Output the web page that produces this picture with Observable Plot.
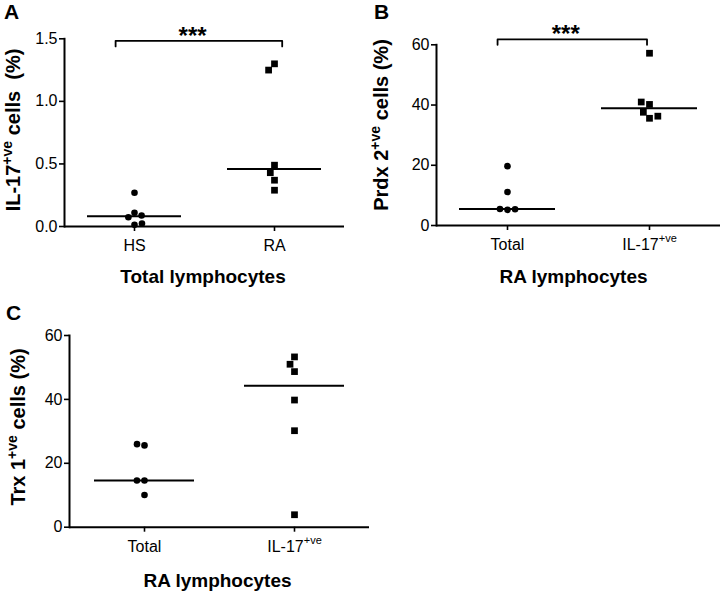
<!DOCTYPE html>
<html><head><meta charset="utf-8">
<script src="https://cdn.jsdelivr.net/npm/d3@7"></script>
<script src="https://cdn.jsdelivr.net/npm/@observablehq/plot@0.6"></script>
<style>
body{margin:0;background:#fff;}
#root{position:relative;width:722px;height:592px;overflow:hidden;background:#fff;}
#root svg{position:absolute;overflow:visible;}
#root svg [aria-label$="tick label"]{font-size:16px !important;}
</style></head><body><div id="root"></div>
<script>
const FONT = '"Liberation Sans", Arial, Helvetica, sans-serif';

// ---- Panel A: IL-17+ve cells (%), Total lymphocytes ----
const groupsA = ["HS", "RA"];
const valuesA_HS = [0.27, 0.11, 0.074, 0.013, 0.024, 0.088];
const valuesA_RA = [1.30, 1.25, 0.49, 0.43, 0.37, 0.29];
const ticksA = [0, 0.5, 1.0, 1.5];

// ---- Panel B: Prdx 2+ve cells (%), RA lymphocytes ----
const groupsB = ["Total", "IL-17"];
const valuesB_Total = [19.7, 11.1, 5.2, 5.5, 5.4];
const valuesB_IL17 = [57.2, 40.2, 41.0, 35.6, 37.6, 36.3];
const ticksB = [0, 20, 40, 60];

// ---- Panel C: Trx 1+ve cells (%), RA lymphocytes ----
const groupsC = ["Total", "IL-17"];
const valuesC_Total = [25.6, 26.0, 14.6, 14.6, 10.1];
const valuesC_IL17 = [53.3, 51.0, 48.7, 39.8, 30.2, 3.9];
const ticksC = [0, 20, 40, 60];

function rows(groups, a, b) {
  return [
    ...a.map(v => ({group: groups[0], value: v, shape: "circle"})),
    ...b.map(v => ({group: groups[1], value: v, shape: "square"}))
  ];
}

function makePanel(cfg) {
  const data = rows(cfg.groups, cfg.a, cfg.b);
  const circles = data.filter(d => d.shape === "circle");
  const squares = data.filter(d => d.shape === "square");
  const marks = [
    Plot.frame({anchor: "left", facetAnchor: "left", strokeWidth: 2}),
    Plot.ruleY([0], {strokeWidth: 2}),
    Plot.axisY({ticks: cfg.ticks, tickFormat: cfg.fmt, tickSize: 5, tickPadding: 2, label: null, strokeWidth: 1.6, fontSize: 16}),
    Plot.axisFx({anchor: "bottom", tickSize: 5, tickPadding: 8, label: null, strokeWidth: 1.6, fontSize: 16}),
    Plot.tickY(data, Plot.groupZ({y: "median"}, {fx: "group", y: "value", insetLeft: cfg.inset, insetRight: cfg.inset, strokeWidth: 2})),
    Plot.dot(circles, Plot.dodgeX("middle", {fx: "group", y: "value", r: 3.3, padding: 4.7, fill: "black", symbol: "circle"})),
    Plot.dot(squares, Plot.dodgeX("middle", {fx: "group", y: "value", r: 3.8, padding: 3.4, fill: "black", symbol: "square"}))
  ];
  if (cfg.bracket) {
    const b = cfg.bracket;
    const pts = [
      {fx: cfg.groups[0], x: b.x1, y: b.yEnd},
      {fx: cfg.groups[0], x: b.x1, y: b.y},
      {fx: cfg.groups[0], x: b.x2, y: b.y},
      {fx: cfg.groups[0], x: b.x2, y: b.yEnd}
    ];
    marks.push(Plot.line(pts, {fx: "fx", x: "x", y: "y", strokeWidth: 1.8, curve: "linear"}));
    marks.push(Plot.text([{fx: cfg.groups[0], x: b.xText, y: b.y, label: b.label}],
      {fx: "fx", x: "x", y: "y", text: "label", fontSize: 24, fontWeight: "bold", dy: 3, lineAnchor: "bottom"}));
  }
  const svg = Plot.plot({
    width: cfg.width, height: cfg.height,
    marginLeft: cfg.mL, marginRight: cfg.mR, marginTop: cfg.mT, marginBottom: cfg.mB,
    style: {fontFamily: FONT, fontSize: "16px", color: "black", background: "transparent"},
    fx: {domain: cfg.groups, padding: 0, label: null},
    x: {domain: [-1, 1], axis: null},
    y: {domain: cfg.yDomain, label: null, axis: null},
    marks
  });
  svg.style.left = cfg.left + "px";
  svg.style.top = cfg.top + "px";
  const s = d3.select(svg);
  // superscript on IL-17 tick label
  s.selectAll("text").filter(function() { return this.textContent === "IL-17" && this.childElementCount === 0; })
    .each(function() {
      d3.select(this).append("tspan").attr("font-size", 11).attr("dy", -8).text("+ve");
    });
  // y label
  const yl = s.append("text")
    .attr("transform", `translate(${cfg.yl[0]},${cfg.yl[1]}) rotate(-90)`)
    .attr("text-anchor", "middle").attr("font-family", FONT).attr("font-weight", "bold")
    .attr("font-size", 20).attr("fill", "black").style("white-space", "pre");
  yl.append("tspan").text(cfg.ylabel[0]);
  yl.append("tspan").attr("font-size", 14).attr("dy", -8).text("+ve");
  yl.append("tspan").attr("dy", 8).text(cfg.ylabel[1]);
  // x title
  s.append("text").attr("x", cfg.xt[0]).attr("y", cfg.xt[1]).attr("text-anchor", "middle")
    .attr("font-family", FONT).attr("font-weight", "bold").attr("font-size", 19).attr("fill", "black")
    .text(cfg.xlabel);
  // panel letter
  s.append("text").attr("x", cfg.lt[0]).attr("y", cfg.lt[1]).attr("text-anchor", "start")
    .attr("font-family", FONT).attr("font-weight", "bold").attr("font-size", 21).attr("fill", "black")
    .text(cfg.letter);
  document.getElementById("root").appendChild(svg);
}

makePanel({
  groups: groupsA, a: valuesA_HS, b: valuesA_RA, ticks: ticksA, fmt: d3.format(".1f"),
  yDomain: [0, 1.5], width: 361, height: 296, left: 0, top: 0,
  mL: 63, mR: 17, mT: 38.3, mB: 70, inset: 23,
  bracket: {x1: -0.27, x2: 2.11, y: 1.484, yEnd: 1.439, xText: 0.83, label: "***"},
  ylabel: ["IL-17", " cells  (%)"], yl: [20, 130],
  xlabel: "Total lymphocytes", xt: [203, 283], letter: "A", lt: [4, 19]
});
makePanel({
  groups: groupsB, a: valuesB_Total, b: valuesB_IL17, ticks: ticksB, fmt: d3.format("d"),
  yDomain: [0, 60], width: 361, height: 296, left: 361, top: 0,
  mL: 74.5, mR: 2.5, mT: 44.3, mB: 71, inset: 23,
  bracket: {x1: -0.14, x2: 1.965, y: 61.8, yEnd: 60.0, xText: 0.82, label: "***"},
  ylabel: ["Prdx 2", " cells (%)"], yl: [27, 125],
  xlabel: "RA lymphocytes", xt: [212.5, 283], letter: "B", lt: [13, 19]
});
makePanel({
  groups: groupsC, a: valuesC_Total, b: valuesC_IL17, ticks: ticksC, fmt: d3.format("d"),
  yDomain: [0, 60], width: 380, height: 296, left: 0, top: 296,
  mL: 68.3, mR: 10.5, mT: 39, mB: 65.3, inset: 25,
  bracket: null,
  ylabel: ["Trx 1", " cells (%)"], yl: [25, 131],
  xlabel: "RA lymphocytes", xt: [217.5, 291], letter: "C", lt: [6, 24]
});
</script></body></html>
